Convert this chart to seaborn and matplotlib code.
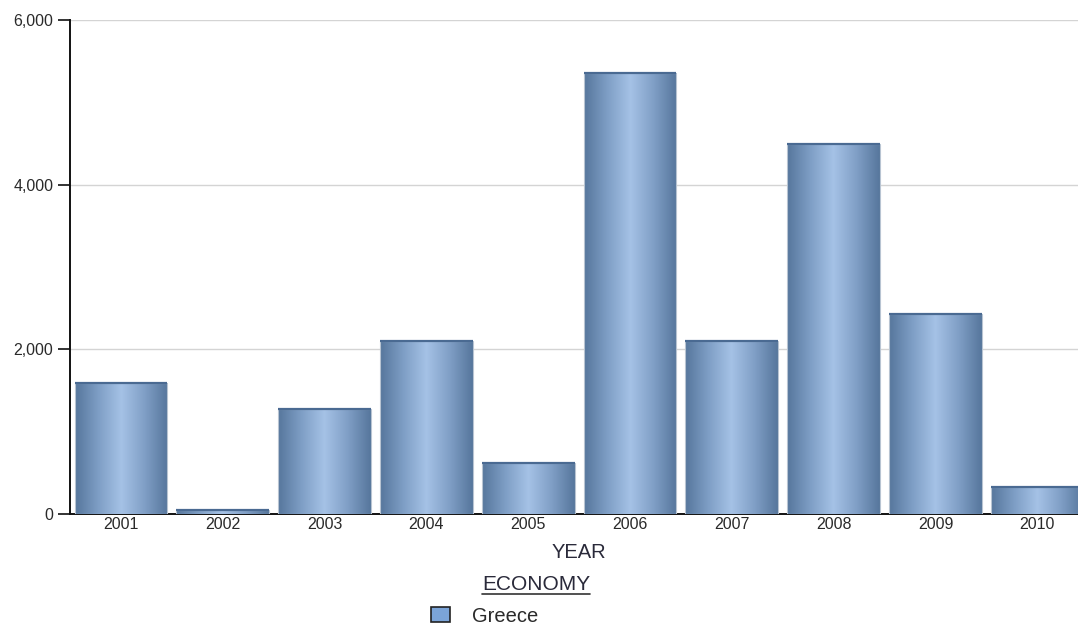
import numpy as np
import pandas as pd
import matplotlib
matplotlib.use("Agg")
import matplotlib.pyplot as plt
from matplotlib.colors import LinearSegmentedColormap
from matplotlib.patches import Patch
from matplotlib.lines import Line2D
from matplotlib.ticker import FuncFormatter
import seaborn as sns

years = ["2001", "2002", "2003", "2004", "2005", "2006", "2007", "2008", "2009", "2010"]
greece = [1590, 50, 1275, 2100, 620, 5360, 2100, 4500, 2430, 330]
series_name = "Greece"
legend_title = "ECONOMY"
x_title = "YEAR"
y_ticks = [0, 2000, 4000, 6000]

df = pd.DataFrame({"YEAR": years, "value": greece})

sns.set_style("white")
plt.rcParams["font.family"] = ["Liberation Sans", "DejaVu Sans"]

W, H = 1078, 625
fig = plt.figure(figsize=(W / 100, H / 100), dpi=100)
ax = fig.add_axes([70 / W, 1 - 514 / H, 1 - 70 / W, (514 - 20) / H])

sns.barplot(data=df, x="YEAR", y="value", color="#7b9cc4", width=0.91,
            ax=ax, zorder=2, saturation=1)

# cylinder-style horizontal shading clipped to each bar
shade = LinearSegmentedColormap.from_list(
    "bar_shade", ["#56769c", "#7e9ec5", "#a5c2e6", "#809fc6", "#56769c"])
grad = np.linspace(0, 1, 256).reshape(1, -1)
for p in ax.patches:
    x0, y0 = p.get_x(), p.get_y()
    w, h = p.get_width(), p.get_height()
    im = ax.imshow(grad, cmap=shade, aspect="auto",
                   extent=(x0, x0 + w, y0, y0 + h), zorder=2.5,
                   interpolation="bicubic")
    im.set_clip_path(p)
    p.set_facecolor("none")
    p.set_edgecolor("#b8c4d2")
    p.set_linewidth(0.8)
    p.set_zorder(3)
    # darker cap along the top of the bar
    ax.plot([x0, x0 + w], [y0 + h, y0 + h], color="#4a6a92", lw=1.6,
            zorder=3.5, solid_capstyle="butt")

ax.set_xlim(-0.5, 9.40)
ax.set_ylim(0, 6000)
ax.set_yticks(y_ticks)
ax.yaxis.set_major_formatter(FuncFormatter(lambda v, _: f"{int(v):,}"))
ax.grid(axis="y", color="#d4d4d4", lw=1, zorder=0)
ax.grid(axis="x", visible=False)

for side in ("top", "right"):
    ax.spines[side].set_visible(False)
ax.spines["left"].set_color("#111111")
ax.spines["left"].set_linewidth(1.4)
ax.spines["bottom"].set_color("#111111")
ax.spines["bottom"].set_linewidth(1.4)
ax.spines["bottom"].set_zorder(1)

ax.tick_params(axis="y", length=9, width=1.2, color="#111111", pad=3,
               labelsize=11.5, labelcolor="#2a2a2a", left=True)
ax.tick_params(axis="x", length=0, pad=2, labelsize=11.5, labelcolor="#2a2a2a")

ax.set_ylabel("")
ax.set_xlabel(x_title, fontsize=14.5, color="#2a2a3a")
ax.xaxis.set_label_coords((579 - 70) / 1008, -(553 - 514) / 494)
ax.xaxis.label.set_va("center")

# legend title with underline
tx, ty = 536 / W, 1 - 584 / H
fig.text(tx, ty, legend_title, ha="center", va="center", fontsize=15,
         color="#2a2a3a")
fig.add_artist(Line2D([482 / W, 590 / W], [1 - 594 / H, 1 - 594 / H],
                      color="#333333", lw=1.2))

handle = Patch(facecolor="#7ba4d8", edgecolor="#222222", linewidth=1.2,
               label=series_name)
fig.legend(handles=[handle], loc="center left",
           bbox_to_anchor=(431 / W, 1 - 616 / H), frameon=False,
           fontsize=14.5, handlelength=0.92, handleheight=0.8,
           handletextpad=1.1, borderpad=0, borderaxespad=0,
           labelcolor="#2a2a2a")

fig.savefig("out.png", dpi=100)
